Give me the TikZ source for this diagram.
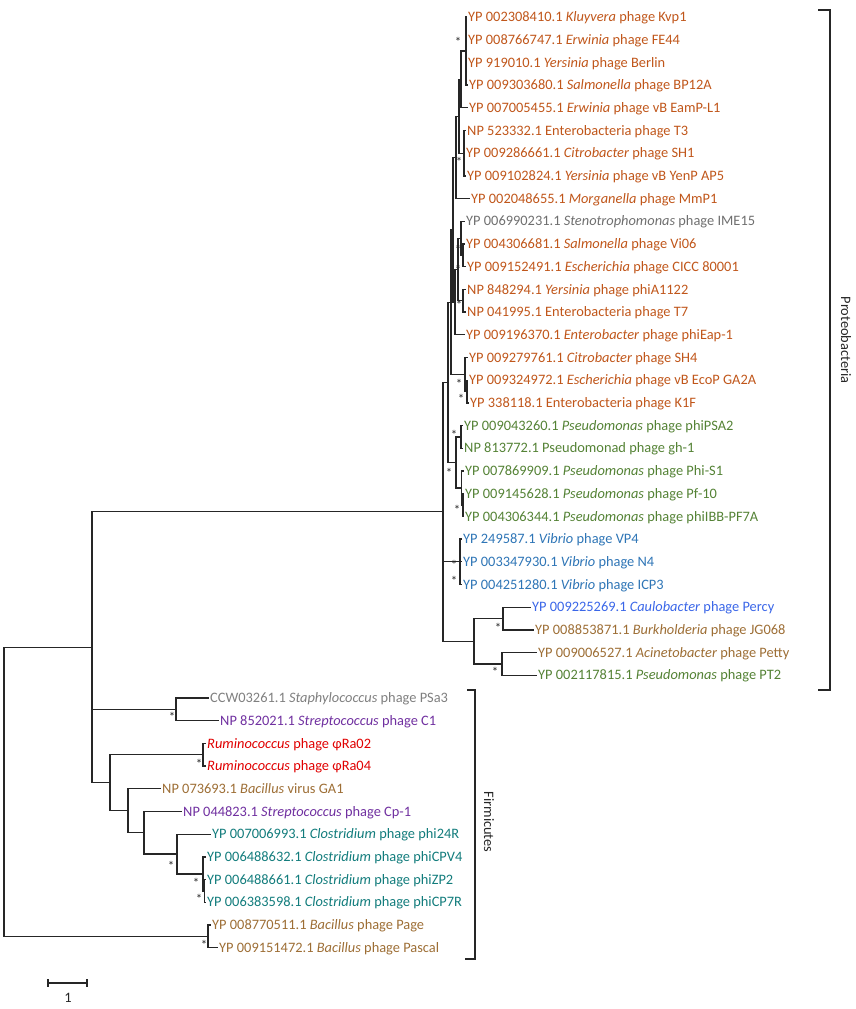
\documentclass[tikz,border=0pt]{standalone}
\usepackage{fontspec}
\setmainfont{Carlito}
\definecolor{entero}{HTML}{C0561A}
\definecolor{stenogrey}{HTML}{6F6F6F}
\definecolor{staphgrey}{HTML}{7F7F7F}
\definecolor{pseudo}{HTML}{548235}
\definecolor{vibrio}{HTML}{2E75B6}
\definecolor{caulo}{HTML}{3A66E8}
\definecolor{brownish}{HTML}{9D6E35}
\definecolor{strep}{HTML}{7030A0}
\definecolor{rumino}{HTML}{E00000}
\definecolor{clostr}{HTML}{127C7C}

\begin{document}
\begin{tikzpicture}[
      x=1pt, y=-1pt,
      every node/.style={inner sep=0pt, font=\fontsize{14.4}{17}\selectfont},
      leaf/.style={anchor=west, inner xsep=1.5pt, text height=9.3pt, text depth=0pt},
      branch/.style={line width=1.3pt, draw=black!85},
      star/.style={anchor=base, yshift=-6.6pt, font=\fontsize{13}{15}\selectfont, text=black!85},
      bracket/.style={line width=1.3pt, draw=black!85},
      clade/.style={rotate=-90, text=black!85}
    ]
  \useasboundingbox (0,0) rectangle (856,1009);

  % Leaves of the tree
  \node[leaf, text=entero] (l1) at (466.5,17.0) {YP 002308410.1 \textit{Kluyvera} phage Kvp1};
  \node[leaf, text=entero] (l2) at (466.5,39.7) {YP 008766747.1 \textit{Erwinia} phage FE44};
  \node[leaf, text=entero] (l3) at (466.5,62.4) {YP 919010.1 \textit{Yersinia} phage Berlin};
  \node[leaf, text=entero] (l4) at (467.5,85.1) {YP 009303680.1 \textit{Salmonella} phage BP12A};
  \node[leaf, text=entero] (l5) at (467.5,107.8) {YP 007005455.1 \textit{Erwinia} phage vB EamP-L1};
  \node[leaf, text=entero] (l6) at (465.5,130.5) {NP 523332.1 Enterobacteria phage T3};
  \node[leaf, text=entero] (l7) at (464.5,153.2) {YP 009286661.1 \textit{Citrobacter} phage SH1};
  \node[leaf, text=entero] (l8) at (465.5,175.9) {YP 009102824.1 \textit{Yersinia} phage vB YenP AP5};
  \node[leaf, text=entero] (l9) at (469.5,198.6) {YP 002048655.1 \textit{Morganella} phage MmP1};
  \node[leaf, text=stenogrey] (l10) at (464.5,221.3) {YP 006990231.1 \textit{Stenotrophomonas} phage IME15};
  \node[leaf, text=entero] (l11) at (464.5,244.0) {YP 004306681.1 \textit{Salmonella} phage Vi06};
  \node[leaf, text=entero] (l12) at (465.5,266.7) {YP 009152491.1 \textit{Escherichia} phage CICC 80001};
  \node[leaf, text=entero] (l13) at (465.5,289.4) {NP 848294.1 \textit{Yersinia} phage phiA1122};
  \node[leaf, text=entero] (l14) at (465.5,312.1) {NP 041995.1 Enterobacteria phage T7};
  \node[leaf, text=entero] (l15) at (464.5,334.8) {YP 009196370.1 \textit{Enterobacter} phage phiEap-1};
  \node[leaf, text=entero] (l16) at (467.5,357.5) {YP 009279761.1 \textit{Citrobacter} phage SH4};
  \node[leaf, text=entero] (l17) at (467.5,380.2) {YP 009324972.1 \textit{Escherichia} phage vB EcoP GA2A};
  \node[leaf, text=entero] (l18) at (468.5,402.9) {YP 338118.1 Enterobacteria phage K1F};
  \node[leaf, text=pseudo] (l19) at (462.5,425.6) {YP 009043260.1 \textit{Pseudomonas} phage phiPSA2};
  \node[leaf, text=pseudo] (l20) at (462.5,448.3) {NP 813772.1 Pseudomonad phage gh-1};
  \node[leaf, text=pseudo] (l21) at (463.5,471.0) {YP 007869909.1 \textit{Pseudomonas} phage Phi-S1};
  \node[leaf, text=pseudo] (l22) at (463.5,493.7) {YP 009145628.1 \textit{Pseudomonas} phage Pf-10};
  \node[leaf, text=pseudo] (l23) at (463.5,516.4) {YP 004306344.1 \textit{Pseudomonas} phage phiIBB-PF7A};
  \node[leaf, text=vibrio] (l24) at (461.5,539.1) {YP 249587.1 \textit{Vibrio} phage VP4};
  \node[leaf, text=vibrio] (l25) at (461.5,561.8) {YP 003347930.1 \textit{Vibrio} phage N4};
  \node[leaf, text=vibrio] (l26) at (461.5,584.5) {YP 004251280.1 \textit{Vibrio} phage ICP3};
  \node[leaf, text=caulo] (l27) at (530.5,607.2) {YP 009225269.1 \textit{Caulobacter} phage Percy};
  \node[leaf, text=brownish] (l28) at (533.5,629.9) {YP 008853871.1 \textit{Burkholderia} phage JG068};
  \node[leaf, text=brownish] (l29) at (536.5,652.6) {YP 009006527.1 \textit{Acinetobacter} phage Petty};
  \node[leaf, text=pseudo] (l30) at (536.5,675.3) {YP 002117815.1 \textit{Pseudomonas} phage PT2};
  \node[leaf, text=staphgrey] (l31) at (208.5,698.0) {CCW03261.1 \textit{Staphylococcus} phage PSa3};
  \node[leaf, text=strep] (l32) at (218.5,720.7) {NP 852021.1 \textit{Streptococcus} phage C1};
  \node[leaf, text=rumino] (l33) at (205.5,743.4) {\textit{Ruminococcus} phage φRa02};
  \node[leaf, text=rumino] (l34) at (205.5,766.1) {\textit{Ruminococcus} phage φRa04};
  \node[leaf, text=brownish] (l35) at (160.5,788.8) {NP 073693.1 \textit{Bacillus} virus GA1};
  \node[leaf, text=strep] (l36) at (181.5,811.5) {NP 044823.1 \textit{Streptococcus} phage Cp-1};
  \node[leaf, text=clostr] (l37) at (210.5,834.2) {YP 007006993.1 \textit{Clostridium} phage phi24R};
  \node[leaf, text=clostr] (l38) at (205.5,856.9) {YP 006488632.1 \textit{Clostridium} phage phiCPV4};
  \node[leaf, text=clostr] (l39) at (205.5,879.6) {YP 006488661.1 \textit{Clostridium} phage phiZP2};
  \node[leaf, text=clostr] (l40) at (205.5,902.3) {YP 006383598.1 \textit{Clostridium} phage phiCP7R};
  \node[leaf, text=brownish] (l41) at (210.5,925.0) {YP 008770511.1 \textit{Bacillus} phage Page};
  \node[leaf, text=brownish] (l42) at (217.5,947.7) {YP 009151472.1 \textit{Bacillus} phage Pascal};

  % Internal nodes
  \coordinate (a1) at (466,51.05);
  \coordinate (a2) at (461,79.4);
  \coordinate (a3) at (464,153.2);
  \coordinate (a4) at (459,116.3);
  \coordinate (a5) at (456,157.45);
  \coordinate (b1) at (463,255.35);
  \coordinate (b2) at (461,238.3);
  \coordinate (b3) at (463,300.75);
  \coordinate (b4) at (458,269.5);
  \coordinate (b5) at (455,302.15);
  \coordinate (c1) at (467,391.55);
  \coordinate (c2) at (465,374.5);
  \coordinate (e1) at (453,229.8);
  \coordinate (e2) at (451,302.15);
  \coordinate (d1) at (461,436.95);
  \coordinate (d2) at (463,505.05);
  \coordinate (d3) at (461.5,488.0);
  \coordinate (d4) at (456,462.5);
  \coordinate (u1) at (448,382.3);
  \coordinate (v1) at (460,561.8);
  \coordinate (f1) at (503,618.55);
  \coordinate (f2) at (502,663.95);
  \coordinate (f3) at (474,641.25);
  \coordinate (p0) at (443,511.8);
  \coordinate (g1) at (176,709.35);
  \coordinate (h1) at (203,754.75);
  \coordinate (k0) at (204.5,890.95);
  \coordinate (k1) at (203,873.9);
  \coordinate (k2) at (177,854.05);
  \coordinate (k3) at (144,832.8);
  \coordinate (k4) at (128,810.8);
  \coordinate (k5) at (110,782.8);
  \coordinate (q0) at (92,647.3);
  \coordinate (m1) at (208,936.35);
  \coordinate (r0) at (4,791.8);

  % Branches
  \draw[branch] (a1) |- (l1.west) (a1) |- (l2.west) (a1) |- (l3.west) (a1) |- (l4.west);
  \draw[branch] (a2) |- (a1) (a2) |- (l5.west);
  \draw[branch] (a3) |- (l6.west) (a3) |- (l7.west) (a3) |- (l8.west);
  \draw[branch] (a4) |- (a2) (a4) |- (a3);
  \draw[branch] (a5) |- (a4) (a5) |- (l9.west);
  \draw[branch] (b1) |- (l11.west) (b1) |- (l12.west);
  \draw[branch] (b2) |- (l10.west) (b2) |- (b1);
  \draw[branch] (b3) |- (l13.west) (b3) |- (l14.west);
  \draw[branch] (b4) |- (b2) (b4) |- (b3);
  \draw[branch] (b5) |- (b4) (b5) |- (l15.west);
  \draw[branch] (c1) |- (l17.west) (c1) |- (l18.west);
  \draw[branch] (c2) |- (l16.west) (c2) |- (c1);
  \draw[branch] (e1) |- (a5) (e1) |- (b5);
  \draw[branch] (e2) |- (e1) (e2) |- (c2);
  \draw[branch] (d1) |- (l19.west) (d1) |- (l20.west);
  \draw[branch] (d2) |- (l22.west) (d2) |- (l23.west);
  \draw[branch] (d3) |- (l21.west) (d3) |- (d2);
  \draw[branch] (d4) |- (d1) (d4) |- (d3);
  \draw[branch] (u1) |- (e2) (u1) |- (d4);
  \draw[branch] (v1) |- (l24.west) (v1) |- (l25.west) (v1) |- (l26.west);
  \draw[branch] (f1) |- (l27.west) (f1) |- (l28.west);
  \draw[branch] (f2) |- (l29.west) (f2) |- (l30.west);
  \draw[branch] (f3) |- (f1) (f3) |- (f2);
  \draw[branch] (p0) |- (u1) (p0) |- (v1) (p0) |- (f3);
  \draw[branch] (g1) |- (l31.west) (g1) |- (l32.west);
  \draw[branch] (h1) |- (l33.west) (h1) |- (l34.west);
  \draw[branch] (k0) |- (l39.west) (k0) |- (l40.west);
  \draw[branch] (k1) |- (l38.west) (k1) |- (k0);
  \draw[branch] (k2) |- (l37.west) (k2) |- (k1);
  \draw[branch] (k3) |- (l36.west) (k3) |- (k2);
  \draw[branch] (k4) |- (l35.west) (k4) |- (k3);
  \draw[branch] (k5) |- (h1) (k5) |- (k4);
  \draw[branch] (q0) |- (p0) (q0) |- (g1) (q0) |- (k5);
  \draw[branch] (m1) |- (l41.west) (m1) |- (l42.west);
  \draw[branch] (r0) |- (q0) (r0) |- (m1);

  % Bootstrap marks
  \node[star] (s1) at (458,40) {*};
  \node[star] (s2) at (459,160) {*};
  \node[star] (s3) at (458,248) {*};
  \node[star] (s4) at (458,268) {*};
  \node[star] (s5) at (459,303) {*};
  \node[star] (s6) at (459,382) {*};
  \node[star] (s7) at (461,397) {*};
  \node[star] (s8) at (454,433) {*};
  \node[star] (s9) at (449,471) {*};
  \node[star] (s10) at (457,508) {*};
  \node[star] (s11) at (454,563) {*};
  \node[star] (s12) at (454,579) {*};
  \node[star] (s13) at (498,626) {*};
  \node[star] (s14) at (495,670) {*};
  \node[star] (s15) at (172,715) {*};
  \node[star] (s16) at (199,762) {*};
  \node[star] (s17) at (171,864) {*};
  \node[star] (s18) at (196,881) {*};
  \node[star] (s19) at (199,897) {*};
  \node[star] (s20) at (204,943) {*};

  % Clade brackets
  \coordinate (pb1) at (818,10);
  \coordinate (pb2) at (830,10);
  \coordinate (pb3) at (830,690);
  \coordinate (pb4) at (818,690);
  \draw[bracket] (pb1) -- (pb2) -- (pb3) -- (pb4);
  \node[clade] (proteo) at (846,340) {Proteobacteria};
  \coordinate (fb1) at (467,690);
  \coordinate (fb2) at (475,690);
  \coordinate (fb3) at (475,959);
  \coordinate (fb4) at (465,959);
  \draw[bracket] (fb1) -- (fb2) -- (fb3) -- (fb4);
  \node[clade] (firmi) at (489,822) {Firmicutes};

  % Scale bar
  \coordinate (sb1) at (48,983);
  \coordinate (sb2) at (87,983);
  \draw[branch] (sb1) -- (sb2);
  \draw[branch] ([yshift=4pt]sb1) -- ([yshift=-4pt]sb1);
  \draw[branch] ([yshift=4pt]sb2) -- ([yshift=-4pt]sb2);
  \node[text=black!85] (unit) at (68,998) {1};
\end{tikzpicture}
\end{document}
